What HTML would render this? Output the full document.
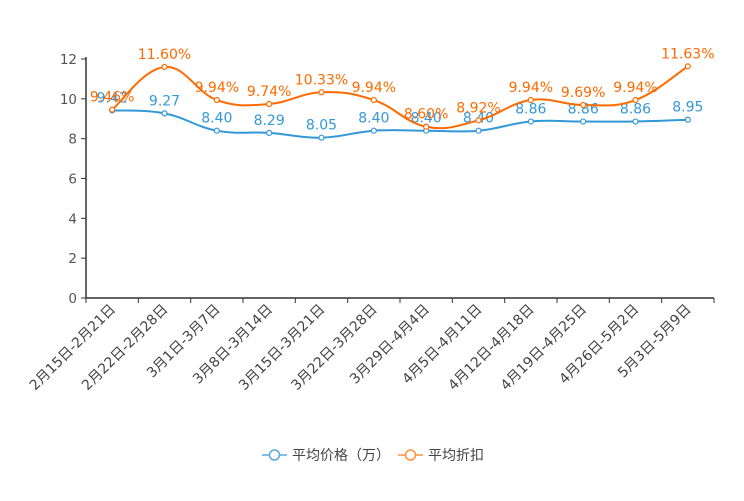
<!DOCTYPE html>
<html><head><meta charset="utf-8"><style>
body{margin:0;background:#fff;width:744px;height:496px;overflow:hidden}
svg{font-family:"DejaVu Sans","Noto Sans CJK SC",sans-serif}
</style></head><body>
<svg id="c" width="744" height="496"></svg>
<script>
const categories=["2月15日-2月21日","2月22日-2月28日","3月1日-3月7日","3月8日-3月14日","3月15日-3月21日","3月22日-3月28日","3月29日-4月4日","4月5日-4月11日","4月12日-4月18日","4月19日-4月25日","4月26日-5月2日","5月3日-5月9日"];
const priceValues=[9.42,9.27,8.40,8.29,8.05,8.40,8.40,8.40,8.86,8.86,8.86,8.95];
const discountValues=[9.46,11.60,9.94,9.74,10.33,9.94,8.60,8.92,9.94,9.69,9.94,11.63];
const yTicks=[0,2,4,6,8,10,12];
const NS="http://www.w3.org/2000/svg";
const svg=document.getElementById('c');
const L=86,R=714,T=59,B=298,yMax=12;
const bw=(R-L)/categories.length;
const x=i=>L+bw*(i+0.5);
const y=v=>B-(v/yMax)*(B-T);
function mk(t,a,p){const e=document.createElementNS(NS,t);for(const k in a)e.setAttribute(k,a[k]);(p||svg).appendChild(e);return e;}
let ax=mk('line',{x1:L,y1:T-2,x2:L,y2:B,stroke:'#333','stroke-width':1.5});


yTicks.forEach(v=>{
 mk('line',{x1:L-5,y1:y(v),x2:L,y2:y(v),stroke:'#333'});
 const t=mk('text',{x:L-9,y:y(v)+5,'text-anchor':'end','font-size':13.5,fill:'#555'});t.textContent=v;
 
 
});
let xa=mk('line',{x1:L,y1:B,x2:R,y2:B,stroke:'#333','stroke-width':1.5});


categories.forEach((c,i)=>{
 mk('line',{x1:L+bw*i,y1:B,x2:L+bw*i,y2:B+5,stroke:'#333'});
 const t=mk('text',{x:x(i)+4,y:B+12,'text-anchor':'end','font-size':14,fill:'#444',transform:`rotate(-45 ${x(i)+4} ${B+12})`});t.textContent=c;
 
 
});
mk('line',{x1:R,y1:B,x2:R,y2:B+5,stroke:'#333'});
function path(vals){
 const p=vals.map((v,i)=>[x(i),y(v)]);let d=`M${p[0][0]},${p[0][1]}`;
 for(let i=0;i<p.length-1;i++){const p0=p[i-1]||p[i],p1=p[i],p2=p[i+1],p3=p[i+2]||p2,k=0.2;
  d+=`C${p1[0]+(p2[0]-p0[0])*k},${p1[1]+(p2[1]-p0[1])*k} ${p2[0]-(p3[0]-p1[0])*k},${p2[1]-(p3[1]-p1[1])*k} ${p2[0]},${p2[1]}`;}
 return d;}
function series(vals,col,name,suffix){
 const g=mk('g',{});
 
 
 mk('path',{d:path(vals),fill:'none',stroke:col,'stroke-width':2},g);
 vals.forEach((v,i)=>{
  const c=mk('circle',{cx:x(i),cy:y(v),r:2.5,fill:'#fff',stroke:col,'stroke-width':1.2},g);
  
  
  const t=mk('text',{x:x(i),y:y(v)-8,'text-anchor':'middle','font-size':14,fill:col},g);t.textContent=v.toFixed(2)+suffix;
  
  
 });}
series(priceValues,'#3398d8','price','');
series(discountValues,'#ff6a00','discount','%');
function leg(x0,col,label,n){
 const g=mk('g',{});
 
 
 mk('line',{x1:x0,y1:455,x2:x0+25,y2:455,stroke:col,'stroke-width':1.5},g);
 mk('circle',{cx:x0+12.5,cy:455,r:5,fill:'#fff',stroke:col,'stroke-width':1.5},g);
 const t=mk('text',{x:x0+30,y:460,'font-size':14,fill:'#444'},g);t.textContent=label;}
leg(262,'#5aa9e0','平均价格（万）','legend-entry-price');
leg(398,'#ff9040','平均折扣','legend-entry-discount');
</script>
</body></html>
